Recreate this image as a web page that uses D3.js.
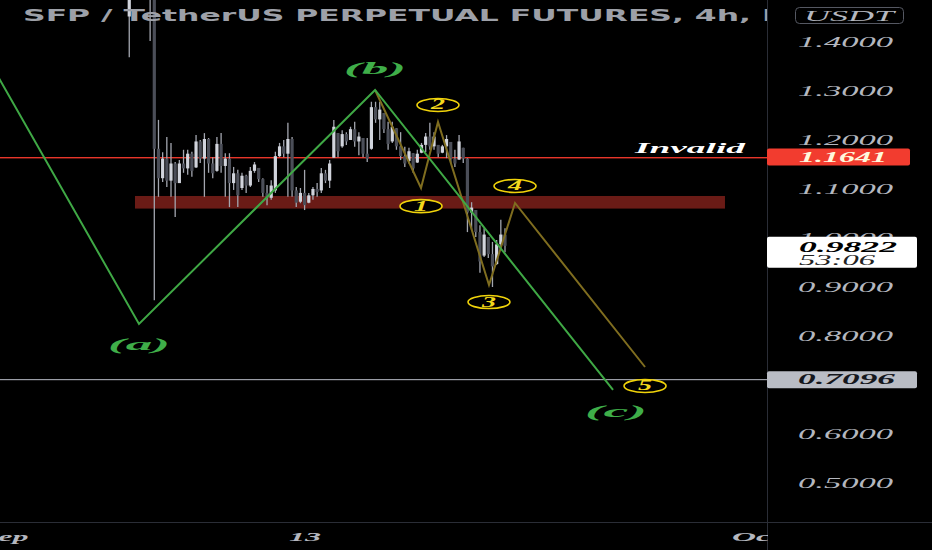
<!DOCTYPE html>
<html><head><meta charset="utf-8">
<script src="https://cdn.jsdelivr.net/npm/d3@7/dist/d3.min.js"></script>
<style>html,body{margin:0;padding:0;background:#000;overflow:hidden}</style>
</head><body>
<svg id="c" width="932" height="550"></svg>
<script>
// ---------- DATA ----------
const title = "SFP / TetherUS PERPETUAL FUTURES, 4h, ";
const titleTail = "BINANCE";
const currency = "USDT";
const firstCandle = "2021-09-06T00:00";
const candleHours = 4;
const opens = [1.450,1.550,1.600,1.580,1.530,1.540,1.495,
1.180,1.120,1.160,1.115,1.150,1.110,1.150,1.140,1.170,1.142,1.195,1.160,1.200,1.150,1.135,1.190,1.145,1.160,1.110,1.130,
1.100,1.125,1.105,1.135,1.141,1.118,1.090,1.080,1.095,1.165,1.185,1.170,1.200,1.095,1.072,1.090,1.070,1.085,1.098,1.095,
1.130,1.115,1.162,1.212,1.185,1.210,1.198,1.220,1.195,1.202,1.170,1.180,1.265,1.240,1.253,1.220,1.195,1.222,1.185,1.165,
1.155,1.171,1.152,1.172,1.188,1.205,1.185,1.188,1.172,1.185,1.194,1.160,1.158,1.182,1.160,1.050,1.055,1.010,0.962,1.000,
0.965,0.945,0.985,1.005];
const highs = [1.600,1.640,1.660,1.620,1.580,1.570,1.510,
1.239,1.173,1.204,1.192,1.153,1.157,1.178,1.178,1.174,1.208,1.198,1.212,1.202,1.163,1.204,1.212,1.171,1.171,1.143,1.137,
1.131,1.127,1.143,1.153,1.141,1.120,1.106,1.116,1.174,1.192,1.198,1.233,1.204,1.102,1.100,1.137,1.090,1.102,1.110,1.141,
1.137,1.157,1.239,1.212,1.218,1.214,1.225,1.235,1.214,1.202,1.202,1.276,1.276,1.276,1.253,1.235,1.235,1.222,1.214,1.184,
1.182,1.171,1.178,1.192,1.212,1.233,1.214,1.188,1.188,1.208,1.194,1.178,1.208,1.182,1.161,1.071,1.055,1.024,1.018,1.000,
0.990,0.994,1.035,1.018];
const lows = [1.367,1.520,1.560,1.510,1.490,1.400,0.871,
1.082,1.112,1.102,1.082,1.041,1.110,1.131,1.127,1.123,1.141,1.151,1.082,1.131,1.120,1.133,1.131,1.082,1.061,1.096,1.061,
1.096,1.090,1.102,1.131,1.112,1.082,1.065,1.076,1.090,1.163,1.163,1.082,1.082,1.061,1.069,1.055,1.069,1.076,1.082,1.090,
1.110,1.100,1.161,1.163,1.182,1.188,1.198,1.184,1.167,1.163,1.153,1.178,1.233,1.198,1.212,1.178,1.192,1.178,1.157,1.143,
1.150,1.131,1.151,1.171,1.173,1.178,1.178,1.163,1.171,1.161,1.151,1.143,1.157,1.151,1.010,1.014,1.000,0.927,0.959,0.957,
0.898,0.943,0.980,0.969];
const closes = [1.560,1.600,1.580,1.530,1.540,1.495,1.180,
1.120,1.160,1.115,1.150,1.110,1.150,1.140,1.170,1.135,1.195,1.160,1.200,1.150,1.130,1.190,1.145,1.160,1.110,1.130,1.085,
1.125,1.105,1.135,1.148,1.118,1.090,1.080,1.105,1.165,1.185,1.170,1.200,1.095,1.070,1.090,1.065,1.085,1.098,1.092,1.130,
1.115,1.150,1.225,1.175,1.210,1.195,1.220,1.195,1.205,1.170,1.160,1.265,1.240,1.260,1.220,1.190,1.225,1.185,1.165,1.150,
1.175,1.140,1.170,1.188,1.205,1.185,1.205,1.170,1.185,1.200,1.160,1.150,1.195,1.160,1.050,1.060,1.010,0.950,1.005,0.965,
0.940,0.985,1.005,0.982];

const priceTicks = [1.4,1.3,1.2,1.1,1.0,0.9,0.8,0.6,0.5];
const dateTicks = ["2021-09-01T00:00","2021-09-13T00:00","2021-10-01T00:00"];
const dateTickLabels = ["Sep","13","Oct"];

const invalidLevel = 1.1641;
const invalidLabel = "Invalid";
const targetLevel = 0.7096;
const lastPrice = 0.9822;
const countdown = "53:06";

const zoneTop = 1.0837, zoneBottom = 1.058;
const zoneStart = "2021-09-06T05:30", zoneEnd = "2021-09-29T18:45";

const waveDates = ["2021-08-31T16:00","2021-09-06T09:20","2021-09-15T19:30","2021-09-25T07:30"];
const waveValues = [1.336,0.8225,1.300,0.6878];
const waveLabels = ["(a)","(b)","(c)"];
const waveLabelDates = ["2021-09-06T09:20","2021-09-15T19:30","2021-09-25T10:20"];
const waveLabelValues = [0.780,1.343,0.643];

const subDates = ["2021-09-15T19:30","2021-09-17T15:32","2021-09-18T07:48","2021-09-20T08:40","2021-09-21T09:36","2021-09-26T14:10"];
const subValues = [1.300,1.100,1.2347,0.902,1.0694,0.7347];
const subLabels = ["1","2","3","4","5"];
const subLabelDates = ["2021-09-17T15:32","2021-09-18T07:48","2021-09-20T08:40","2021-09-21T09:36","2021-09-26T14:10"];
const subLabelValues = [1.063,1.2694,0.8673,1.1041,0.696];

// ---------- DRAW ----------
const W = 932, H = 550, axisX = 767, axisY = 522;
const parse = d3.timeParse("%Y-%m-%dT%H:%M");
const svg = d3.select("#c");
const x = d3.scaleTime().domain([new Date(2021,8,1), new Date(2021,9,1)]).range([4, 755.5]);
const y = d3.scaleLinear().domain([0.5,1.4]).range([482,41]);
const serif = "'Liberation Serif','DejaVu Serif',serif";

svg.append("rect").attr("width",W).attr("height",H).attr("fill","#000");

const plot = svg.append("g");

// zone
plot.append("rect")
  .attr("x", x(parse(zoneStart))).attr("y", y(zoneTop))
  .attr("width", x(parse(zoneEnd)) - x(parse(zoneStart)))
  .attr("height", y(zoneBottom) - y(zoneTop))
  .attr("fill", "#6a1b16");

// level lines
plot.append("rect").attr("x",0).attr("width",axisX)
  .attr("y",Math.round(y(invalidLevel))).attr("height",1.4)
  .attr("fill","#e8362a");
plot.append("rect").attr("x",0).attr("width",axisX)
  .attr("y",Math.round(y(targetLevel))).attr("height",1.2)
  .attr("fill","#9a9da6");

// candles
const t0 = parse(firstCandle);
const candles = opens.map((o,i)=>({t:d3.timeHour.offset(t0, candleHours*i), o, h:highs[i], l:lows[i], c:closes[i]}));
const cg = plot.append("g");
cg.selectAll("line.w").data(candles).join("line").attr("class","w")
  .attr("x1",d=>x(d.t)).attr("x2",d=>x(d.t))
  .attr("y1",d=>y(d.h)).attr("y2",d=>y(d.l))
  .attr("stroke","#a3a6af").attr("stroke-width",1.3);
const bw = 3.2;
cg.selectAll("rect.b").data(candles).join("rect").attr("class","b")
  .attr("x",d=>x(d.t)-bw/2).attr("width",bw)
  .attr("y",d=>y(Math.max(d.o,d.c)))
  .attr("height",d=>Math.max(1,Math.abs(y(d.o)-y(d.c))))
  .attr("fill",d=>d.c>=d.o?"#d1d4dc":"#4b4e58");

// wave lines
const line = d3.line().x(d=>x(d[0])).y(d=>y(d[1]));
plot.append("path")
  .attr("d", line(subDates.map((d,i)=>[parse(d), subValues[i]])))
  .attr("fill","none").attr("stroke","#7f6d1f").attr("stroke-width",2);
plot.append("path")
  .attr("d", line(waveDates.map((d,i)=>[parse(d), waveValues[i]])))
  .attr("fill","none").attr("stroke","#3fa845").attr("stroke-width",2);

// wave labels
const stretch = (sel, w) => sel.attr("textLength", w).attr("lengthAdjust","spacingAndGlyphs");
waveLabels.forEach((lab,i)=>{
  const t = plot.append("text")
    .attr("x", x(parse(waveLabelDates[i]))).attr("y", y(waveLabelValues[i]) + 5)
    .attr("text-anchor","middle")
    .attr("font-family",serif).attr("font-style","italic").attr("font-weight","bold")
    .attr("font-size",17).attr("fill","#3fae49").text(lab);
  stretch(t, 62);
});
subLabels.forEach((lab,i)=>{
  const cx = x(parse(subLabelDates[i])), cy = y(subLabelValues[i]);
  plot.append("ellipse").attr("cx",cx).attr("cy",cy).attr("rx",21).attr("ry",6.5)
    .attr("fill","#000").attr("stroke","#f0d30a").attr("stroke-width",1.6);
  const t = plot.append("text").attr("x",cx).attr("y",cy+4.5)
    .attr("text-anchor","middle")
    .attr("font-family",serif).attr("font-style","italic").attr("font-weight","bold")
    .attr("font-size",14).attr("fill","#f3d81c").text(lab);
  stretch(t, 14);
});

// Invalid label
stretch(plot.append("text").attr("x",745).attr("y",y(invalidLevel)-4)
  .attr("text-anchor","end")
  .attr("font-family",serif).attr("font-style","italic").attr("font-weight","bold")
  .attr("font-size",15).attr("fill","#ffffff").text(invalidLabel), 110);

// title
const tt = plot.append("text").attr("x",23).attr("y",21)
  .attr("font-family","'DejaVu Sans',Verdana,sans-serif").attr("font-weight","bold")
  .attr("font-size",15).attr("fill","#9da0a8").text(title + titleTail);
{
  const node = tt.node();
  const full = node.getComputedTextLength();
  const pre = node.getSubStringLength(0, title.length);
  stretch(tt, (762-23) * full / pre);
}

// ---------- AXES PANELS ----------
svg.append("rect").attr("x",axisX).attr("y",0).attr("width",W-axisX).attr("height",H).attr("fill","#000");
svg.append("rect").attr("x",0).attr("y",axisY).attr("width",W).attr("height",H-axisY).attr("fill","#000");
svg.append("line").attr("x1",axisX+0.5).attr("x2",axisX+0.5).attr("y1",0).attr("y2",H)
  .attr("stroke","#2a2d36").attr("stroke-width",1);
svg.append("line").attr("x1",0).attr("x2",W).attr("y1",axisY+0.5).attr("y2",axisY+0.5)
  .attr("stroke","#2a2d36").attr("stroke-width",1);

// price axis
const ya = svg.append("g").attr("transform",`translate(${axisX},0)`)
  .call(d3.axisRight(y).tickValues(priceTicks).tickSize(0).tickPadding(31).tickFormat(d3.format(".4f")));
ya.select(".domain").remove();
ya.selectAll("text").attr("font-family",serif).attr("font-style","italic")
  .attr("font-size",14).attr("fill","#b4b7bf").attr("dy","0.42em")
  .attr("textLength",95).attr("lengthAdjust","spacingAndGlyphs");

// time axis
const xa = svg.append("g").attr("transform",`translate(0,${axisY})`)
  .call(d3.axisBottom(x).tickValues(dateTicks.map(parse)).tickSize(0).tickPadding(10)
    .tickFormat((d,i)=>dateTickLabels[i]));
xa.select(".domain").remove();
xa.selectAll("text").attr("font-family",serif).attr("font-style","italic").attr("font-weight","bold")
  .attr("font-size",13).attr("fill","#b4b7bf").attr("dy","0.71em")
  .each(function(d,i){ d3.select(this).attr("textLength", dateTickLabels[i].length===2?32:48).attr("lengthAdjust","spacingAndGlyphs"); });
svg.append("rect").attr("x",axisX+1).attr("y",axisY+1).attr("width",W-axisX-1).attr("height",H-axisY-1).attr("fill","#000");

// currency box
svg.append("rect").attr("x",795.5).attr("y",7.5).attr("width",108).attr("height",16).attr("rx",4)
  .attr("fill","#000").attr("stroke","#555862").attr("stroke-width",1);
stretch(svg.append("text").attr("x",849).attr("y",21).attr("text-anchor","middle")
  .attr("font-family",serif).attr("font-style","italic").attr("font-size",14)
  .attr("fill","#b4b7bf").text(currency), 90);

// invalid tag
const yi = y(invalidLevel);
svg.append("rect").attr("x",axisX).attr("y",yi-8).attr("width",143).attr("height",17).attr("rx",2).attr("fill","#f23c2f");
stretch(svg.append("text").attr("x",799).attr("y",yi+5)
  .attr("font-family",serif).attr("font-style","italic").attr("font-weight","bold").attr("font-size",14)
  .attr("fill","#fff8dc").text(d3.format(".4f")(invalidLevel)), 88);

// target tag
const yt = y(targetLevel);
svg.append("rect").attr("x",axisX).attr("y",yt-8).attr("width",150).attr("height",17).attr("rx",2).attr("fill","#b9bcc4");
stretch(svg.append("text").attr("x",798).attr("y",yt+5)
  .attr("font-family",serif).attr("font-style","italic").attr("font-weight","bold").attr("font-size",14)
  .attr("fill","#15171d").text(d3.format(".4f")(targetLevel)), 97);

// last price tag
const yl = y(lastPrice);
svg.append("rect").attr("x",axisX).attr("y",yl-9).attr("width",150).attr("height",31).attr("rx",2).attr("fill","#ffffff");
stretch(svg.append("text").attr("x",799).attr("y",yl+6)
  .attr("font-family",serif).attr("font-style","italic").attr("font-weight","bold").attr("font-size",14)
  .attr("fill","#000").text(d3.format(".4f")(lastPrice)), 98);
stretch(svg.append("text").attr("x",799).attr("y",yl+19)
  .attr("font-family",serif).attr("font-style","italic").attr("font-size",14)
  .attr("fill","#222").text(countdown), 76);
</script>
</body></html>
